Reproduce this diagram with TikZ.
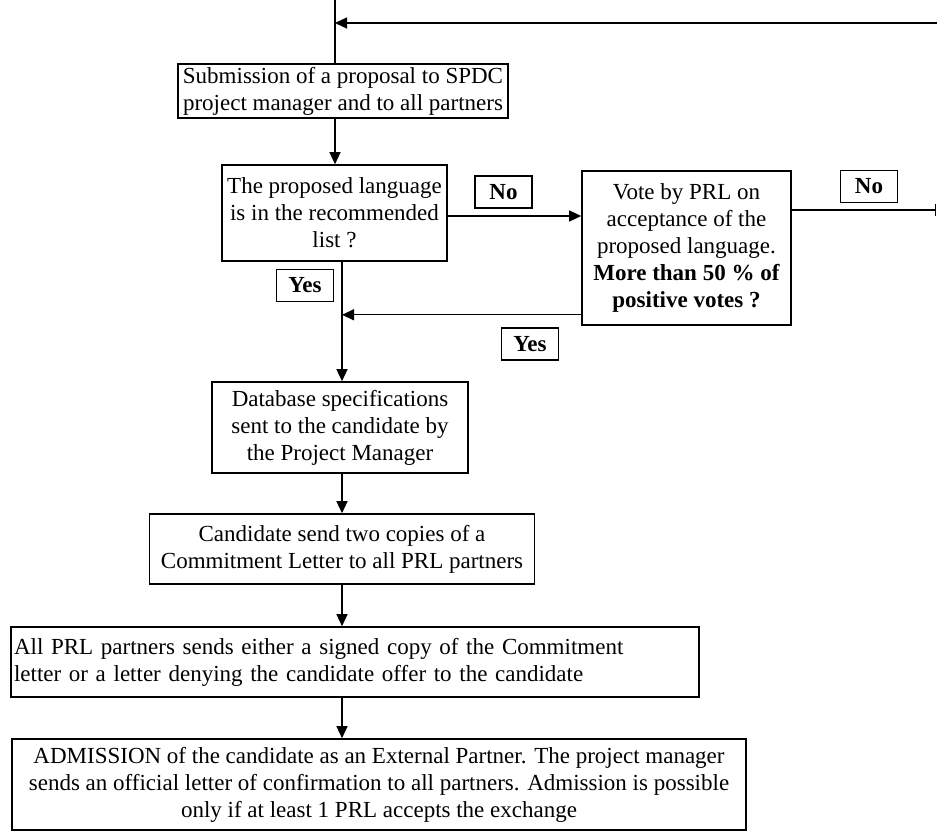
\documentclass[tikz,border=0pt]{standalone}
\usepackage{fontspec}
\setmainfont{Liberation Serif}
\usetikzlibrary{arrows.meta}
\tikzset{procbox/.style={draw,line width=1.6pt,inner sep=0pt,align=center,
   font=\fontsize{23}{27}\selectfont},
 tagbox/.style={draw,line width=1.4pt,inner sep=0pt,minimum width=57pt,
   minimum height=32pt,font=\fontsize{23}{27}\selectfont\bfseries},
 flow/.style={line width=1.3pt,-{Triangle[length=12pt,width=11pt]}},
 plain/.style={line width=1.3pt},
 }

\begin{document}
\begin{tikzpicture}[x=1pt,y=-1pt]
        \useasboundingbox (0,0) rectangle (937,832);
        \coordinate (start) at (335,0);
        \coordinate (axis) at (342,0);
        \coordinate (backtop) at (950,23);
        \coordinate (noend) at (936,210);

        \node[procbox,minimum width=330pt,minimum height=54pt] (submit) at (343,91)
            {Submission of a proposal to SPDC\\project manager and to all partners};
        \node[procbox,minimum width=225pt,minimum height=96pt] (lang) at (334.5,213)
            {The proposed language\\is in the recommended\\list ?};
        \node[procbox,minimum width=209pt,minimum height=154pt] (vote) at (686.5,248)
            {Vote by PRL on\\acceptance of the\\proposed language.\\
             \textbf{More than 50 \% of}\\\textbf{positive votes ?}};
        \node[procbox,minimum width=256pt,minimum height=91pt] (dbspec) at (340,427.5)
            {Database specifications\\sent to the candidate by\\the Project Manager};
        \node[procbox,minimum width=385pt,minimum height=70pt] (letter) at (342,549)
            {Candidate send two copies of a\\Commitment Letter to all PRL partners};
        \node[procbox,minimum width=688pt,minimum height=70pt,align=left,
            text width=682pt,inner xsep=3pt] (reply) at (355,662)
            {All PRL partners sends either a signed copy of the Commitment\\
             letter or a letter denying the candidate offer to the candidate};
        \node[procbox,minimum width=734pt,minimum height=91pt] (admit) at (379,784.5)
            {ADMISSION of the candidate as an External Partner. The project manager\\
             sends an official letter of confirmation to all partners. Admission is possible\\
             only if at least 1 PRL accepts the exchange};

        \node[tagbox] (yesa) at (305,285.5) {Yes};
        \node[tagbox] (noa) at (503.5,192) {No};
        \node[tagbox] (yesb) at (530,344) {Yes};
        \node[tagbox] (nob) at (869,186.5) {No};

        \draw[plain] (start) -- (start |- submit.north);
        \draw[flow] (backtop) -- (start |- backtop);
        \draw[flow] (start |- submit.south) -- (start |- lang.north);
        \draw[flow] ([yshift=-3pt]lang.east) -- ([yshift=-3pt]lang.east -| vote.west);
        \draw[flow] ([yshift=11pt]vote.south west) -- ([yshift=11pt]vote.south west -| axis);
        \draw[-{Bar[width=12pt]},line width=1.3pt] ([yshift=38pt]vote.east) -- (noend);
        \draw[flow] (axis |- lang.south) -- (axis |- dbspec.north);
        \draw[flow] (axis |- dbspec.south) -- (axis |- letter.north);
        \draw[flow] (axis |- letter.south) -- (axis |- reply.north);
        \draw[flow] (axis |- reply.south) -- (axis |- admit.north);
    \end{tikzpicture}
\end{document}
